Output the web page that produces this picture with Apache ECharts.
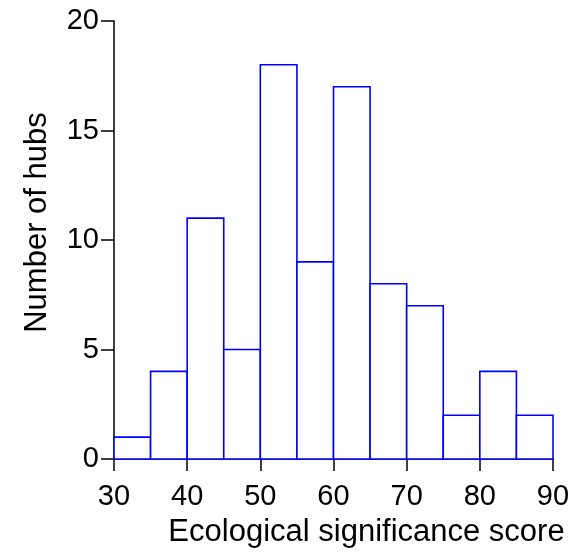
<!DOCTYPE html>
<html>
<head>
<meta charset="utf-8">
<script src="https://cdn.jsdelivr.net/npm/echarts@6/dist/echarts.min.js"></script>
<style>
html,body{margin:0;padding:0;background:#fff;}
#chart{width:582px;height:553px;}
</style>
</head>
<body>
<div id="chart"></div>
<script>
var binStarts = [30, 35, 40, 45, 50, 55, 60, 65, 70, 75, 80, 85];
var binWidth = 5;
var counts = [1, 4, 11, 5, 18, 9, 17, 8, 7, 2, 4, 2];
var xTicks = [30, 40, 50, 60, 70, 80, 90];
var yTicks = [0, 5, 10, 15, 20];

var data = binStarts.map(function (s, i) { return [s, s + binWidth, counts[i]]; });
var font = 'Liberation Sans, Arial, sans-serif';

var chart = echarts.init(document.getElementById('chart'), null, {renderer: 'canvas'});
chart.setOption({
  animation: false,
  backgroundColor: '#ffffff',
  grid: {left: 114, right: 29, top: 21, bottom: 92, containLabel: false},
  xAxis: {
    type: 'value', min: xTicks[0], max: xTicks[xTicks.length - 1], interval: 10,
    name: 'Ecological significance score', nameLocation: 'middle', nameGap: 58,
    nameTextStyle: {fontSize: 31, fontFamily: font, color: '#000', padding: [0, 0, 0, 66]},
    axisLine: {lineStyle: {color: '#000', width: 1.5}},
    axisTick: {length: 12, lineStyle: {color: '#000', width: 1.5}},
    axisLabel: {fontSize: 29, fontFamily: font, color: '#000', margin: 23},
    splitLine: {show: false}
  },
  yAxis: {
    type: 'value', min: yTicks[0], max: yTicks[yTicks.length - 1], interval: 5,
    name: 'Number of hubs', nameLocation: 'middle', nameGap: 61,
    nameTextStyle: {fontSize: 31, fontFamily: font, color: '#000', padding: [0, 0, 0, 35]},
    axisLine: {show: true, lineStyle: {color: '#000', width: 1.5}},
    axisTick: {show: true, length: 13, lineStyle: {color: '#000', width: 1.5}},
    axisLabel: {fontSize: 29, fontFamily: font, color: '#000', margin: 15},
    splitLine: {show: false}
  },
  series: [{
    type: 'custom',
    data: data,
    encode: {x: [0, 1], y: 2},
    renderItem: function (params, api) {
      var p0 = api.coord([api.value(0), 0]);
      var p1 = api.coord([api.value(1), api.value(2)]);
      return {
        type: 'rect',
        shape: {x: p0[0], y: p1[1], width: p1[0] - p0[0], height: p0[1] - p1[1]},
        style: {fill: '#ffffff', stroke: '#0000ff', lineWidth: 1.6}
      };
    }
  }]
});
</script>
</body>
</html>
